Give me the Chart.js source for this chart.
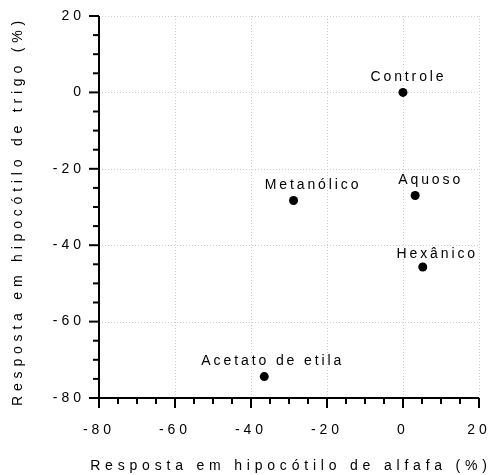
<!DOCTYPE html>
<html>
<head>
<meta charset="utf-8">
<script src="https://cdn.jsdelivr.net/npm/chart.js@4/dist/chart.umd.min.js"></script>
<style>
  html, body { margin: 0; padding: 0; background: #fff; }
  #c { display: block; }
</style>
</head>
<body>
<canvas id="c" width="491" height="475"></canvas>
<script>
// ---- data ----
const pointNames = ['Controle', 'Aquoso', 'Metanólico', 'Hexânico', 'Acetato de etila'];
const alfafaValues = [0, 3.2, -28.8, 5.2, -36.5];     // x: resposta em hipocótilo de alfafa (%)
const trigoValues  = [0, -27.0, -28.3, -45.7, -74.4]; // y: resposta em hipocótilo de trigo (%)
const xTickValues = [-80, -60, -40, -20, 0, 20];
const yTickValues = [-80, -60, -40, -20, 0, 20];
const xTitle = 'Resposta em hipocótilo de alfafa (%)';
const yTitle = 'Resposta em hipocótilo de trigo (%)';

// ---- style ----
const FONT = '"Liberation Sans", Arial, sans-serif';
const labelOffsets = [[5.5, -15], [15.5, -15], [19.5, -15], [14.5, -13], [8.5, -15]];

const scatterData = alfafaValues.map((x, i) => ({ x: x, y: trigoValues[i] }));

function zeroPad(s) { s.paddingLeft = 0; s.paddingRight = 0; s.paddingTop = 0; s.paddingBottom = 0; }

const decor = {
  id: 'decor',
  beforeDraw(chart) {
    chart.ctx.letterSpacing = '4px';
  },
  beforeDatasetsDraw(chart) {
    const { ctx, chartArea: a, scales: { x, y } } = chart;
    ctx.save();
    ctx.letterSpacing = '0px';
    ctx.strokeStyle = '#cfcfcf';
    ctx.lineWidth = 1;
    ctx.setLineDash([1, 2]);
    xTickValues.forEach(v => {
      const px = Math.round(x.getPixelForValue(v)) + 0.5;
      ctx.beginPath(); ctx.moveTo(px, a.top); ctx.lineTo(px, a.bottom); ctx.stroke();
    });
    yTickValues.forEach(v => {
      const py = Math.round(y.getPixelForValue(v)) + 0.5;
      ctx.beginPath(); ctx.moveTo(a.left, py); ctx.lineTo(a.right, py); ctx.stroke();
    });
    ctx.setLineDash([]);
    // axes
    ctx.strokeStyle = '#000';
    ctx.lineWidth = 2;
    ctx.beginPath();
    ctx.moveTo(a.left, a.top); ctx.lineTo(a.left, a.bottom); ctx.lineTo(a.right, a.bottom);
    ctx.stroke();
    // tick marks
    for (let v = -80; v <= 20; v += 5) {
      const major = v % 20 === 0;
      const px = x.getPixelForValue(v);
      ctx.beginPath(); ctx.moveTo(px, a.bottom); ctx.lineTo(px, a.bottom + (major ? 10 : 6)); ctx.stroke();
      const py = y.getPixelForValue(v);
      ctx.beginPath(); ctx.moveTo(a.left, py); ctx.lineTo(a.left - (major ? 10 : 6), py); ctx.stroke();
    }
    // axis titles
    ctx.fillStyle = '#000';
    ctx.font = '14px ' + FONT;
    ctx.letterSpacing = '4.8px';
    ctx.textAlign = 'center';
    ctx.textBaseline = 'middle';
    ctx.fillText(xTitle, (a.left + a.right) / 2 + 2, 466);
    ctx.save();
    ctx.translate(18, (a.top + a.bottom) / 2 + 4);
    ctx.rotate(-Math.PI / 2);
    ctx.fillText(yTitle, 0, 0);
    ctx.restore();
    ctx.restore();
  },
  afterDatasetsDraw(chart) {
    const { ctx, scales: { x, y } } = chart;
    ctx.save();
    ctx.fillStyle = '#000';
    ctx.font = '14px ' + FONT;
    ctx.letterSpacing = '2.9px';
    ctx.textAlign = 'center';
    ctx.textBaseline = 'middle';
    pointNames.forEach((n, i) => {
      const px = x.getPixelForValue(alfafaValues[i]) + labelOffsets[i][0];
      const py = y.getPixelForValue(trigoValues[i]) + labelOffsets[i][1];
      ctx.fillText(n, px, py);
    });
    ctx.restore();
  },
  afterDraw(chart) {
    chart.ctx.letterSpacing = '0px';
  }
};

new Chart(document.getElementById('c'), {
  type: 'scatter',
  data: {
    datasets: [{
      data: scatterData,
      backgroundColor: '#000',
      borderColor: '#000',
      borderWidth: 0,
      pointRadius: 4.5,
      pointHoverRadius: 4.5
    }]
  },
  options: {
    responsive: false,
    animation: false,
    events: [],
    layout: { padding: { left: 0, right: 12, top: 16, bottom: 0 } },
    plugins: { legend: { display: false }, tooltip: { enabled: false } },
    scales: {
      x: {
        type: 'linear', min: -80, max: 20,
        afterBuildTicks: s => { s.ticks = xTickValues.map(v => ({ value: v })); },
        afterFit: s => { s.height = 77; zeroPad(s); },
        grid: { display: false, drawTicks: false },
        border: { display: false },
        ticks: { color: '#000', font: { family: FONT, size: 14 }, padding: 24, maxRotation: 0, autoSkip: false }
      },
      y: {
        type: 'linear', min: -80, max: 20,
        afterBuildTicks: s => { s.ticks = yTickValues.map(v => ({ value: v })); },
        afterFit: s => { s.width = 99; zeroPad(s); },
        grid: { display: false, drawTicks: false },
        border: { display: false },
        ticks: { color: '#000', font: { family: FONT, size: 14 }, padding: 14, autoSkip: false }
      }
    }
  },
  plugins: [decor]
});
</script>
</body>
</html>
